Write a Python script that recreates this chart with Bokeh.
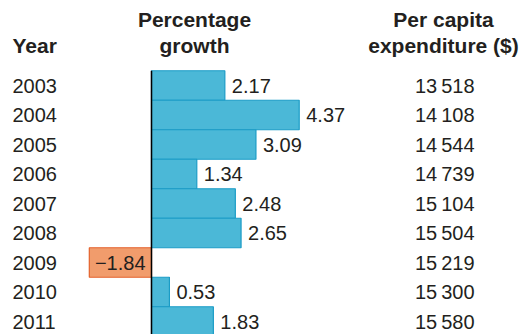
from bokeh.plotting import figure
from bokeh.models import Range1d, ColumnDataSource
from bokeh.core.properties import value
from bokeh.embed import file_html
from bokeh.resources import INLINE

years = ["2003", "2004", "2005", "2006", "2007", "2008", "2009", "2010", "2011"]
growth = [2.17, 4.37, 3.09, 1.34, 2.48, 2.65, -1.84, 0.53, 1.83]
per_capita = [13518, 14108, 14544, 14739, 15104, 15504, 15219, 15300, 15580]

W, H = 521, 334
X0 = 151.0      # pixel position of zero
SCALE = 33.8    # pixels per percentage point
ROW0 = 85.0     # pixel centre of first row
ROWH = 29.5     # row pitch

def px(xp):
    return (xp - X0) / SCALE

def ypx(yp):
    return (yp - ROW0) / ROWH

p = figure(width=W, height=H, output_backend="svg", toolbar_location=None,
           x_range=Range1d(px(0), px(W)),
           y_range=Range1d((H - ROW0) / ROWH, -ROW0 / ROWH),
           min_border=0, min_border_left=0, min_border_right=0,
           min_border_top=0, min_border_bottom=0)
p.axis.visible = False
p.grid.visible = False
p.outline_line_color = None
p.background_fill_color = "white"
p.border_fill_color = "white"

idx = list(range(len(years)))
fills = ["#4bb8d7" if g >= 0 else "#f19c6c" for g in growth]
lines = ["#1b9cc6" if g >= 0 else "#e4622c" for g in growth]
fmt_g = [("\u2212%.2f" % abs(g)) if g < 0 else "%.2f" % g for g in growth]
fmt_pc = ["{:,}".format(v).replace(",", "\u2009") for v in per_capita]

src = ColumnDataSource(dict(y=idx, g=growth, fill=fills, line=lines,
                            year=years, gl=fmt_g, pc=fmt_pc))

p.hbar(y="y", left=0, right="g", height=1.0, fill_color="fill",
       line_color="line", line_width=1.2, source=src)

# zero axis line
p.segment(x0=[0], y0=[-0.5], x1=[0], y1=[len(years) + 1], line_color="black",
          line_width=1.5)

font = value("Liberation Sans")
tc = "#231f20"

# year labels
p.text(x=px(12), y="y", text="year", source=src, text_font=font,
       text_font_size="20px", text_color=tc, text_baseline="middle",
       text_align="left")

# growth value labels
pos = [i for i, g in enumerate(growth) if g >= 0]
neg = [i for i, g in enumerate(growth) if g < 0]
p.text(x=[growth[i] + 7 / SCALE for i in pos], y=pos,
       text=[fmt_g[i] for i in pos], text_font=font, text_font_size="20px",
       text_color=tc, text_baseline="middle", text_align="left")
p.text(x=[-6 / SCALE for i in neg], y=neg,
       text=[fmt_g[i] for i in neg], text_font=font, text_font_size="20px",
       text_color=tc, text_baseline="middle", text_align="right")

# per capita labels
p.text(x=px(474), y="y", text="pc", source=src, text_font=font,
       text_font_size="20px", text_color=tc, text_baseline="middle",
       text_align="right")

# headers
hdr = dict(text_font=font, text_font_size="21px", text_font_style="bold",
           text_color=tc, text_baseline="middle")
p.text(x=[px(12)], y=[ypx(45)], text=["Year"], text_align="left", **hdr)
p.text(x=[px(194), px(194)], y=[ypx(19), ypx(45)],
       text=["Percentage", "growth"], text_align="center", **hdr)
p.text(x=[px(443), px(443)], y=[ypx(19), ypx(45)],
       text=["Per capita", "expenditure ($)"], text_align="center", **hdr)

open("out.html", "w").write(file_html(p, INLINE))
